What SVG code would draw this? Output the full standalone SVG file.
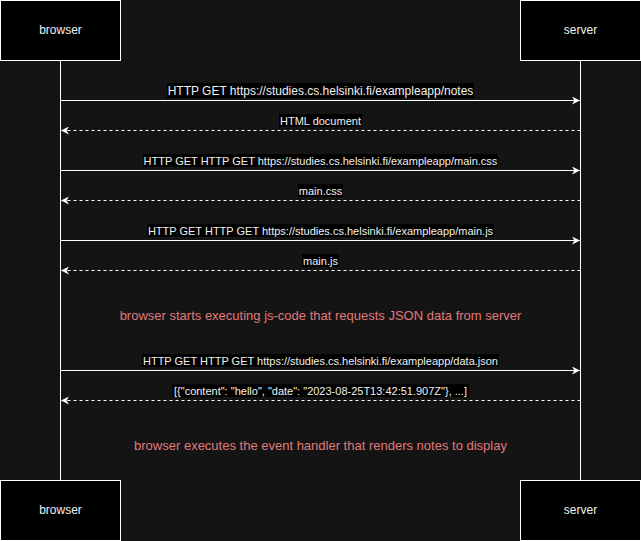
<svg xmlns="http://www.w3.org/2000/svg" width="641" height="541" viewBox="0 0 641 541">
<defs>
<style>
.box{fill:#000;stroke:#fff;stroke-width:1}
.life{stroke:#fff;stroke-width:1;fill:none}
.msg{stroke:#fff;stroke-width:1;fill:none}
.ret{stroke:#fff;stroke-width:1;fill:none;stroke-dasharray:3 3}
.t{font-family:"Liberation Sans",Arial,sans-serif;fill:#f0f0f0;text-anchor:middle}
.bt{font-size:12px}
.lt{font-size:11px}
.lt12{font-size:12px}
.lbg{fill:#000}
.note{font-family:"Liberation Sans",Arial,sans-serif;font-size:13px;fill:#e07a7a;text-anchor:middle}
</style>
<marker id="ah" viewBox="0 0 10 10" refX="10" refY="5" markerWidth="8" markerHeight="8" markerUnits="userSpaceOnUse" orient="auto">
<path d="M0,0 L10,5 L0,10 L3,5 Z" fill="#fff"/>
</marker>
</defs>
<rect x="0" y="0" width="641" height="541" fill="#141414"/>
<g id="lifelines">
<line class="life" x1="60.5" y1="60" x2="60.5" y2="480"/>
<line class="life" x1="580.5" y1="60" x2="580.5" y2="480"/>
</g>
<g id="browser-top"><rect class="box" x="0.5" y="0.5" width="120" height="60"/><text class="t bt" x="60.5" y="34">browser</text></g>
<g id="server-top"><rect class="box" x="520.5" y="0.5" width="120" height="60"/><text class="t bt" x="580.5" y="34">server</text></g>
<g id="browser-bottom"><rect class="box" x="0.5" y="480.5" width="120" height="60"/><text class="t bt" x="60.5" y="514">browser</text></g>
<g id="server-bottom"><rect class="box" x="520.5" y="480.5" width="120" height="60"/><text class="t bt" x="580.5" y="514">server</text></g>
<g id="connectors">
<line class="msg" x1="60.5" y1="100.5" x2="580" y2="100.5" marker-end="url(#ah)"/>
<line class="ret" x1="580.5" y1="130.5" x2="61" y2="130.5" marker-end="url(#ah)"/>
<line class="msg" x1="60.5" y1="170.5" x2="580" y2="170.5" marker-end="url(#ah)"/>
<line class="ret" x1="580.5" y1="200.5" x2="61" y2="200.5" marker-end="url(#ah)"/>
<line class="msg" x1="60.5" y1="240.5" x2="580" y2="240.5" marker-end="url(#ah)"/>
<line class="ret" x1="580.5" y1="270.5" x2="61" y2="270.5" marker-end="url(#ah)"/>
<line class="msg" x1="60.5" y1="370.5" x2="580" y2="370.5" marker-end="url(#ah)"/>
<line class="ret" x1="580.5" y1="400.5" x2="61" y2="400.5" marker-end="url(#ah)"/>
</g>
<g id="labels">
<rect class="lbg" x="167" y="83" width="307" height="15"/>
<text class="t lt12" x="320.5" y="95">HTTP GET https://studies.cs.helsinki.fi/exampleapp/notes</text>
<rect class="lbg" x="279" y="114" width="83" height="13"/>
<text class="t lt" x="320.5" y="125">HTML document</text>
<rect class="lbg" x="143" y="154" width="355" height="13"/>
<text class="t lt" x="320.5" y="165">HTTP GET HTTP GET https://studies.cs.helsinki.fi/exampleapp/main.css</text>
<rect class="lbg" x="298" y="184" width="45" height="13"/>
<text class="t lt" x="320.5" y="195">main.css</text>
<rect class="lbg" x="147" y="224" width="347" height="13"/>
<text class="t lt" x="320.5" y="235">HTTP GET HTTP GET https://studies.cs.helsinki.fi/exampleapp/main.js</text>
<rect class="lbg" x="302" y="254" width="37" height="13"/>
<text class="t lt" x="320.5" y="265">main.js</text>
<rect class="lbg" x="142" y="354" width="357" height="13"/>
<text class="t lt" x="320.5" y="365">HTTP GET HTTP GET https://studies.cs.helsinki.fi/exampleapp/data.json</text>
<rect class="lbg" x="172" y="384" width="297" height="13"/>
<text class="t lt" x="320.5" y="395">[{"content": "hello", "date": "2023-08-25T13:42:51.907Z"}, ...]</text>
</g>
<g id="notes">
<text class="note" x="320.5" y="320">browser starts executing js-code that requests JSON data from server</text>
<text class="note" x="320.5" y="450">browser executes the event handler that renders notes to display</text>
</g>
</svg>
